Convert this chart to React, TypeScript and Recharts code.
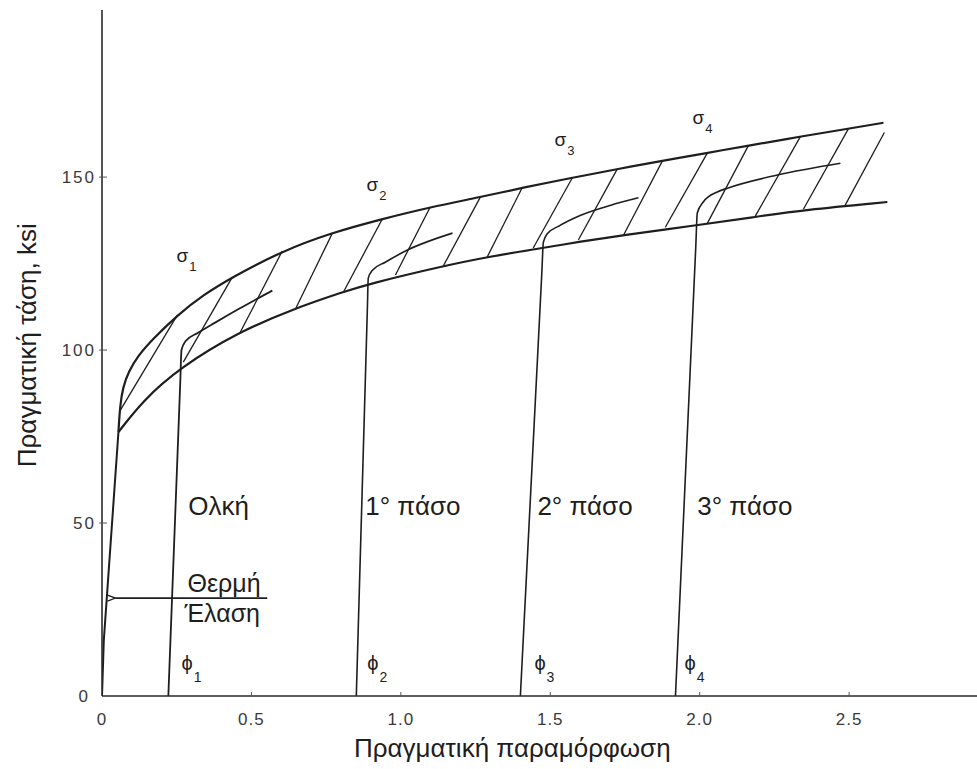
import { LineChart, Line, XAxis, YAxis, ReferenceLine, ReferenceDot } from "recharts";

type Pt = { x: number; y: number };

const xTicks = [0, 0.5, 1, 1.5, 2, 2.5];
const yTicks = [0, 50, 100, 150];

// elastic loading up to the branching point
const elasticLine: Pt[] = [
  { x: 0, y: 0 },
  { x: 0.006, y: 16 },
  { x: 0.055, y: 76.3 },
];

// upper bound of the band
const upperCurve: Pt[] = [
  { x: 0.055, y: 76.3 },
  { x: 0.0605, y: 84 },
  { x: 0.07, y: 89.2 },
  { x: 0.088, y: 93.6 },
  { x: 0.12, y: 98.3 },
  { x: 0.168, y: 103.0 },
  { x: 0.252, y: 110.1 },
  { x: 0.34, y: 116.0 },
  { x: 0.436, y: 121.1 },
  { x: 0.603, y: 128.6 },
  { x: 0.764, y: 133.8 },
  { x: 0.938, y: 137.9 },
  { x: 1.098, y: 141.3 },
  { x: 1.265, y: 144.2 },
  { x: 1.406, y: 146.9 },
  { x: 1.573, y: 149.8 },
  { x: 1.724, y: 152.3 },
  { x: 1.868, y: 154.6 },
  { x: 2.026, y: 157.0 },
  { x: 2.163, y: 159.1 },
  { x: 2.337, y: 161.7 },
  { x: 2.498, y: 164.0 },
  { x: 2.615, y: 165.7 },
];

// lower bound of the band
const lowerCurve: Pt[] = [
  { x: 0.055, y: 76.3 },
  { x: 0.138, y: 85.5 },
  { x: 0.259, y: 94.8 },
  { x: 0.456, y: 105.2 },
  { x: 0.647, y: 112.1 },
  { x: 0.808, y: 116.8 },
  { x: 0.891, y: 119.1 },
  { x: 1.142, y: 124.3 },
  { x: 1.289, y: 126.9 },
  { x: 1.474, y: 129.5 },
  { x: 1.59, y: 131.2 },
  { x: 1.745, y: 133.2 },
  { x: 1.992, y: 136.1 },
  { x: 2.18, y: 138.4 },
  { x: 2.347, y: 140.5 },
  { x: 2.628, y: 142.8 },
];

// reloading after each pre-strain φ1..φ4
const tensionCurve: Pt[] = [
  { x: 0.222, y: 0 },
  { x: 0.262, y: 91 },
  { x: 0.266, y: 100 },
  { x: 0.28, y: 102.6 },
  { x: 0.32, y: 104.9 },
  { x: 0.38, y: 108.0 },
  { x: 0.46, y: 112.0 },
  { x: 0.57, y: 117.2 },
];

const pass1Curve: Pt[] = [
  { x: 0.851, y: 0 },
  { x: 0.888, y: 112 },
  { x: 0.891, y: 120.8 },
  { x: 0.905, y: 123.1 },
  { x: 0.948, y: 125.4 },
  { x: 1.022, y: 128.9 },
  { x: 1.173, y: 133.8 },
];

const pass2Curve: Pt[] = [
  { x: 1.4, y: 0 },
  { x: 1.4716, y: 122 },
  { x: 1.477, y: 131.2 },
  { x: 1.49, y: 133.6 },
  { x: 1.53, y: 135.9 },
  { x: 1.6, y: 138.9 },
  { x: 1.7, y: 141.8 },
  { x: 1.795, y: 144.0 },
];

const pass3Curve: Pt[] = [
  { x: 1.919, y: 0 },
  { x: 1.987, y: 130 },
  { x: 1.992, y: 139.6 },
  { x: 2.012, y: 142.8 },
  { x: 2.059, y: 145.7 },
  { x: 2.093, y: 146.8 },
  { x: 2.26, y: 150.6 },
  { x: 2.471, y: 154.0 },
];

// hatching between the bounds: [x1, y1, x2, y2]
const hatchLines: number[][] = [
  [0.062, 82.7, 0.252, 110.1],
  [0.272, 96.5, 0.436, 121.1],
  [0.463, 105.2, 0.603, 128.6],
  [0.647, 111.8, 0.771, 133.8],
  [0.808, 116.8, 0.938, 137.9],
  [0.982, 121.7, 1.098, 141.3],
  [1.142, 124.3, 1.266, 144.2],
  [1.289, 126.9, 1.406, 146.9],
  [1.443, 129.5, 1.574, 149.8],
  [1.594, 131.8, 1.724, 152.3],
  [1.745, 133.2, 1.875, 154.6],
  [1.885, 135.5, 2.026, 157.0],
  [2.026, 136.7, 2.163, 159.1],
  [2.186, 138.7, 2.337, 161.7],
  [2.347, 140.7, 2.498, 164.0],
  [2.487, 141.9, 2.618, 162.9],
];

// "hot rolling" arrow pointing at the stress axis
const hotRollArrow: Pt[] = [
  { x: 0.553, y: 28.3 },
  { x: 0.045, y: 28.3 },
];

const sigmaSubs = ["1", "2", "3", "4"];
const phiSubs = ["1", "2", "3", "4"];
const stageNames = ["Ολκή", "1° πάσο", "2° πάσο", "3° πάσο"];

// where the annotations sit, in axis units
const sigmaAt = [
  [0.249, 125.4],
  [0.885, 146],
  [1.514, 159],
  [1.976, 165.3],
];
const phiAt = [0.266, 0.888, 1.447, 1.949];
const stageAt = [0.289, 0.881, 1.457, 1.992];

const INK = "#1e1e1e";
const FONT = '"Liberation Sans", Arial, Helvetica, sans-serif';

const SubText = ({ viewBox, main, sub, size, subSize, subDy }: any) => (
  <text x={viewBox.x} y={viewBox.y} fontSize={size} fill={INK} fontFamily={FONT}>
    {main}
    <tspan fontSize={subSize} dx={1} dy={subDy}>
      {sub}
    </tspan>
  </text>
);

const PlainText = ({ viewBox, value, size, anchor = "start", rotate = false }: any) => (
  <text
    x={viewBox.x}
    y={viewBox.y}
    fontSize={size}
    fill={INK}
    fontFamily={FONT}
    textAnchor={anchor}
    dominantBaseline={rotate ? "central" : undefined}
    transform={rotate ? `rotate(-90 ${viewBox.x} ${viewBox.y})` : undefined}
  >
    {value}
  </text>
);

const XTick = ({ x, y, payload }: any) => (
  <g>
    {payload.value !== 0 && <line x1={x} x2={x} y1={y - 4} y2={y} stroke="#555" strokeWidth={1} />}
    <text x={x} y={y + 23} textAnchor="middle" dominantBaseline="central" fontSize={17} fill="#3a3a3a" fontFamily={FONT} letterSpacing={1}>
      {payload.value === 0 ? "0" : payload.value.toFixed(1)}
    </text>
  </g>
);

const YTick = ({ x, y, payload }: any) => (
  <g>
    {payload.value !== 0 && <line x1={x - 3} x2={x + 5} y1={y} y2={y} stroke="#555" strokeWidth={1} />}
    <text
      x={payload.value === 0 ? x - 12 : x - 6}
      y={y}
      textAnchor="end"
      dominantBaseline="central"
      fontSize={17}
      fill="#3a3a3a"
      fontFamily={FONT}
      letterSpacing={2}
    >
      {payload.value}
    </text>
  </g>
);

const curve = (data: Pt[], key: string, width = 2, type: any = "monotone", extra: any = {}) => (
  <Line
    key={key}
    data={data}
    dataKey="y"
    type={type}
    stroke={INK}
    strokeWidth={width}
    dot={false}
    activeDot={false}
    isAnimationActive={false}
    {...extra}
  />
);

const note = (key: string, x: number, y: number, content: (p: any) => any) => (
  <ReferenceDot key={key} x={x} y={y} r={0} fill="none" stroke="none" ifOverflow="visible" label={content} />
);

export default function App() {
  return (
    <div style={{ position: "absolute", left: 0, top: 0, background: "#fff" }}>
      <LineChart width={977} height={769} margin={{ top: 10, right: 0, bottom: 43, left: 0 }}>
        <defs>
          <marker id="arrowHead" markerWidth="10" markerHeight="8" refX="1" refY="4" orient="auto" markerUnits="userSpaceOnUse">
            <path d="M9,1 L1,4 L9,7" fill="none" stroke={INK} strokeWidth="1.3" />
          </marker>
        </defs>
        <XAxis
          dataKey="x"
          type="number"
          domain={[0, 2.928]}
          allowDataOverflow
          ticks={xTicks}
          interval={0}
          height={30}
          tickSize={0}
          tickMargin={0}
          tickLine={false}
          axisLine={{ stroke: "#2a2a2a", strokeWidth: 1.6 }}
          tick={(p: any) => <XTick {...p} />}
        />
        <YAxis
          type="number"
          domain={[0, 198.3]}
          allowDataOverflow
          ticks={yTicks}
          interval={0}
          width={102}
          tickSize={0}
          tickMargin={0}
          tickLine={false}
          axisLine={{ stroke: "#2a2a2a", strokeWidth: 1.6 }}
          tick={(p: any) => <YTick {...p} />}
        />

        {hatchLines.map((h, i) => (
          <ReferenceLine
            key={`h${i}`}
            segment={[
              { x: h[0], y: h[1] },
              { x: h[2], y: h[3] },
            ]}
            stroke={INK}
            strokeWidth={1.3}
            ifOverflow="visible"
          />
        ))}

        {curve(elasticLine, "elastic", 2, "linear")}
        {curve(upperCurve, "upper", 2.2, "basis")}
        {curve(lowerCurve, "lower", 2.2, "basis")}
        {curve(tensionCurve, "tension", 1.8)}
        {curve(pass1Curve, "pass1", 1.6)}
        {curve(pass2Curve, "pass2", 1.6)}
        {curve(pass3Curve, "pass3", 1.6)}
        {curve(hotRollArrow, "arrow", 1.6, "linear", { markerEnd: "url(#arrowHead)" })}

        {sigmaSubs.map((s, i) =>
          note(`s${i}`, sigmaAt[i][0], sigmaAt[i][1], (p: any) => (
            <SubText viewBox={p.viewBox} main="σ" sub={s} size={19} subSize={13} subDy={9} />
          ))
        )}
        {phiSubs.map((s, i) =>
          note(`f${i}`, phiAt[i], 7.5, (p: any) => (
            <SubText viewBox={p.viewBox} main="ϕ" sub={s} size={20} subSize={14} subDy={12} />
          ))
        )}
        {stageNames.map((s, i) =>
          note(`st${i}`, stageAt[i], 52.3, (p: any) => <PlainText viewBox={p.viewBox} value={s} size={26} />)
        )}
        {note("hot1", 0.286, 30.1, (p: any) => <PlainText viewBox={p.viewBox} value="Θερμή" size={25} />)}
        {note("hot2", 0.276, 21.4, (p: any) => <PlainText viewBox={p.viewBox} value="Έλαση" size={25} />)}
        {note("xTitle", 1.373, -17.6, (p: any) => (
          <PlainText viewBox={p.viewBox} value="Πραγματική παραμόρφωση" size={26} anchor="middle" />
        ))}
        {note("yTitle", -0.25, 101.4, (p: any) => (
          <PlainText viewBox={p.viewBox} value="Πραγματική τάση, ksi" size={26} anchor="middle" rotate />
        ))}
      </LineChart>
    </div>
  );
}
